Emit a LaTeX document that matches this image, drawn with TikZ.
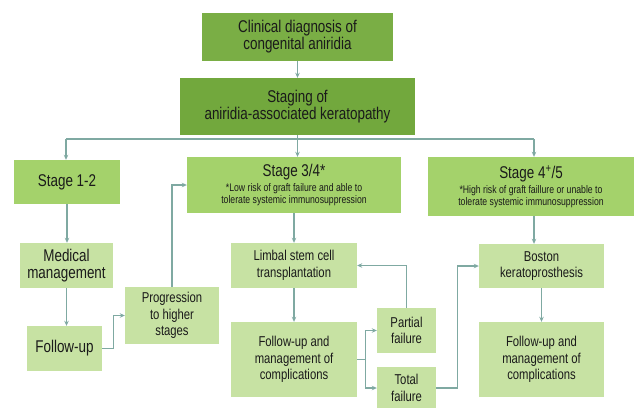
\documentclass[tikz,border=0pt]{standalone}
\usepackage{fontspec}
\setmainfont[FakeStretch=0.79]{Liberation Sans}
\usetikzlibrary{arrows.meta}
\definecolor{darkbox}{HTML}{7AAE45}
\definecolor{darkbox2}{HTML}{72A83D}
\definecolor{stagebox}{HTML}{A4D26B}
\definecolor{lightbox}{HTML}{C7E2A3}
\definecolor{conn}{HTML}{7FA9A2}
\definecolor{txt}{HTML}{1A1A1A}
\begin{document}
\begin{tikzpicture}[x=1pt,y=-1pt,
  sz/.style 2 args={minimum width=#1pt,minimum height=#2pt},
  box/.style={draw=none,inner sep=0pt,align=center,text=txt,anchor=center},
  topbox/.style={box,fill=darkbox,font=\fontsize{17}{17}\selectfont},
  stagebx/.style={box,fill=stagebox},
  lbox/.style={box,fill=lightbox,font=\fontsize{14.3}{16.7}\selectfont},
  bigl/.style={box,fill=lightbox,font=\fontsize{17}{17.5}\selectfont},
  arr/.style={draw=conn,line width=1.4pt,-{Stealth[length=5pt,width=4.5pt]}},
  ln/.style={draw=conn,line width=1.4pt}]
\useasboundingbox[fill=white] (0,0) rectangle (636,407);
% top boxes
\node[topbox,sz={191}{48}] (b1) at (297.5,37) {Clinical diagnosis of\\congenital aniridia};
\node[topbox,fill=darkbox2,sz={235}{57}] (b2) at (297.5,106.5) {Staging of\\aniridia-associated keratopathy};
% stage boxes
\node[stagebx,sz={106}{44},font=\fontsize{17}{17}\selectfont] (s12) at (67,182) {Stage 1-2};
\node[stagebx,sz={214}{56}] (s34) at (294,185) {{\fontsize{17}{17}\selectfont Stage 3/4*}\\[3pt]{\fontsize{11}{11}\selectfont *Low risk of graft failure and able to}\\{\fontsize{11}{11}\selectfont tolerate systemic immunosuppression}};
\node[stagebx,sz={206}{59}] (s45) at (531,186.5) {{\fontsize{17}{17}\selectfont Stage 4\textsuperscript{+}/5}\\[3pt]{\fontsize{11}{11}\selectfont *High risk of graft faillure or unable to}\\{\fontsize{11}{11}\selectfont tolerate systemic immunosuppression}};
% left column
\node[bigl,sz={93}{45}] (med) at (66.5,265.5) {Medical\\management};
\node[bigl,sz={75}{45}] (fu) at (64.5,348.5) {Follow-up};
\node[lbox,sz={94}{57}] (prog) at (172,315.5) {Progression\\to higher\\stages};
% middle column
\node[lbox,sz={126}{45}] (limb) at (294,265.5) {Limbal stem cell\\transplantation};
\node[lbox,sz={126}{75}] (fum) at (294,359.5) {Follow-up and\\management of\\complications};
\node[lbox,sz={59}{45}] (part) at (406.5,330.5) {Partial\\failure};
\node[lbox,sz={59}{42}] (tot) at (406.5,388) {Total\\failure};
% right column
\node[lbox,sz={125}{44}] (bos) at (541.5,266) {Boston\\keratoprosthesis};
\node[lbox,sz={125}{75}] (fur) at (541.5,359.5) {Follow-up and\\management of\\complications};
% connectors
\draw[arr] (b1.south) -- (b2.north);
\coordinate (jn) at (297.5,139);
\coordinate (jl) at (66,139);
\coordinate (jr) at (534,139);
\draw[ln] (b2.south) -- (jn);
\draw[ln] (jl) -- (jr);
\draw[arr] (jl) -- (jl |- s12.north);
\draw[arr] (jn) -- (jn |- s34.north);
\draw[arr] (jr) -- (jr |- s45.north);
\draw[arr] (s12.south) -- (s12.south |- med.north);
\draw[arr] (med.south) -- (med.south |- fu.north);
\draw[arr] (fu.east) -- ++(11,0) |- (prog.west);
\draw[arr] (prog.north) |- (s34.west);
\draw[arr] (s34.south) -- (limb.north);
\draw[arr] (limb.south) -- (fum.north);
\draw[arr] (fum.east) -- ++(8,0) |- (part.west);
\draw[arr] (fum.east) -- ++(8,0) |- (tot.west);
\draw[arr] (part.north) |- (limb.east);
\draw[arr] (tot.east) -- ++(21,0) |- (bos.west);
\draw[arr] (jr |- s45.south) -- (jr |- bos.north);
\draw[arr] (bos.south) -- (fur.north);
\end{tikzpicture}
\end{document}
